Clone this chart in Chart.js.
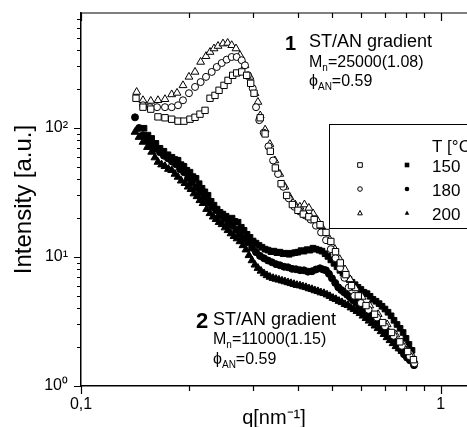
<!DOCTYPE html>
<html>
<head>
<meta charset="utf-8">
<script src="https://cdn.jsdelivr.net/npm/chart.js@4.4.0/dist/chart.umd.min.js"></script>
<style>
  html, body { margin: 0; padding: 0; background: #fff; overflow: hidden; }
  canvas { display: block; }
</style>
</head>
<body>
<canvas id="chart" width="467" height="427"></canvas>
<script>
// Ejes
const xMajor = [0.1, 1]
const xLabels = ['0,1', '1']
const yMajor = [1, 10, 100]
const yLabels = ['10⁰', '10¹', '10²']

// Muestra 1: ST/AN gradient Mn=25000 (símbolos abiertos)
const q1_150 = [0.1422, 0.1487, 0.1563, 0.1637, 0.1712, 0.1787, 0.1861, 0.1933, 0.2009, 0.2075, 0.2142, 0.2212, 0.2284, 0.2358, 0.2420, 0.2498, 0.2563, 0.2641, 0.2709, 0.2798, 0.2888, 0.2963, 0.3027,
    0.3150, 0.3250, 0.3360, 0.3470, 0.3600, 0.3730, 0.3870, 0.4010, 0.4150, 0.4300, 0.4450, 0.4620, 0.4800, 0.4950, 0.5100, 0.5260, 0.5450, 0.5650, 0.5900, 0.6200, 0.6550, 0.6900, 0.7300, 0.7700, 0.8100, 0.8400]
const i1_150 = [170, 145, 140, 122, 120, 117, 113, 113, 117, 121, 128, 137, 170, 179, 196, 214, 234, 256, 267, 272, 256, 222, 186,
    120, 90, 66, 49, 37, 30, 25.5, 23, 21.5, 20.5, 19.5, 17.8, 15.5, 13.2, 11.0, 9.0, 7.3, 6.0, 5.0, 4.2, 3.6, 3.1, 2.6, 2.2, 1.85, 1.6]

const q1_180 = [0.1487, 0.1555, 0.1627, 0.1712, 0.1787, 0.1861, 0.1921, 0.1996, 0.2075, 0.2151, 0.2226, 0.2309, 0.2385, 0.2462, 0.2542, 0.2624, 0.2709, 0.2798, 0.2857, 0.2913, 0.3002, 0.3066,
    0.3130, 0.3220, 0.3320, 0.3420, 0.3530, 0.3650, 0.3780, 0.3920, 0.4060, 0.4200, 0.4350, 0.4500, 0.4650, 0.4800, 0.4950, 0.5100, 0.5250, 0.5400, 0.5550, 0.5750, 0.6000, 0.6300, 0.6650, 0.7000, 0.7400, 0.7800, 0.8200, 0.8450]
const i1_180 = [150, 145, 145, 145, 145, 150, 164, 186, 208, 227, 249, 272, 297, 319, 339, 355, 355, 335, 306, 256, 203, 145,
    115, 92, 72, 56, 44, 35, 28.5, 24.5, 22.5, 21, 19.5, 17.5, 15.5, 13.5, 11.5, 9.8, 8.2, 6.9, 5.8, 5.0, 4.4, 3.9, 3.4, 2.9, 2.45, 2.05, 1.7, 1.5]

const q1_200 = [0.1428, 0.1487, 0.1563, 0.1637, 0.1712, 0.1787, 0.1849, 0.1921, 0.1996, 0.2075, 0.2151, 0.2226, 0.2284, 0.2343, 0.2404, 0.2482, 0.2557, 0.2624, 0.2697, 0.2767, 0.2857, 0.2950, 0.3045, 0.3104,
    0.3150, 0.3250, 0.3350, 0.3460, 0.3570, 0.3690, 0.3810, 0.3940, 0.4060, 0.4180, 0.4300, 0.4420, 0.4540, 0.4660, 0.4780, 0.4920, 0.5080, 0.5240, 0.5420, 0.5600, 0.5800, 0.6050, 0.6350, 0.6700, 0.7100, 0.7500, 0.7900, 0.8300]
const i1_200 = [190, 164, 162, 164, 167, 182, 187, 214, 249, 272, 325, 360, 388, 413, 432, 451, 456, 438, 413, 366, 306, 249, 186, 159,
    125, 97, 75, 56, 44, 35, 29, 25.5, 24.5, 25.5, 24.0, 21.7, 19.3, 17.3, 15.4, 13.6, 11.5, 9.6, 8.0, 6.7, 5.7, 4.9, 4.2, 3.6, 3.0, 2.5, 2.1, 1.75]

// Muestra 2: ST/AN gradient Mn=11000 (símbolos rellenos)
const q2_150 = [0.1497, 0.1535, 0.1572, 0.1615, 0.1658, 0.1700, 0.1745, 0.1790, 0.1825, 0.1861, 0.1897, 0.1933, 0.1970, 0.2009, 0.2048, 0.2088, 0.2130, 0.2170, 0.2210, 0.2255,
    0.2300, 0.2343, 0.2390, 0.2435, 0.2480, 0.2531, 0.2580, 0.2630, 0.2680, 0.2733, 0.2790, 0.2840, 0.2895, 0.2950, 0.3010, 0.3066, 0.3125, 0.3186, 0.3250, 0.3311,
    0.3375, 0.3440, 0.3505, 0.3574, 0.3645, 0.3715, 0.3790, 0.3860, 0.3935, 0.4011, 0.4090, 0.4168, 0.4250, 0.4331, 0.4415, 0.4500, 0.4590, 0.4677, 0.4770, 0.4859,
    0.4950, 0.5050, 0.5150, 0.5248, 0.5350, 0.5453, 0.5560, 0.5667, 0.5780, 0.5889, 0.6000, 0.6119, 0.6240, 0.6362, 0.6480, 0.6609, 0.6740, 0.6869, 0.7000, 0.7137,
    0.7280, 0.7417, 0.7560, 0.7709, 0.7860, 0.8009, 0.8160, 0.8322]
const i2_150 = [99.5, 88, 83, 76, 69.6, 66, 62, 59.3, 57, 56.2, 52, 50.5, 47, 45.4, 42, 40.7, 37, 34.1, 32, 30.1,
    27, 25.2, 23.5, 22.2, 21.5, 20.7, 19.6, 20.0, 18.9, 18.6, 17.0, 16.1, 15.0, 14.2, 13.3, 12.8, 12.3, 11.9, 11.5, 11.3,
    11.0, 11.1, 10.8, 10.9, 10.6, 10.7, 10.5, 10.7, 10.8, 10.9, 11.2, 11.1, 11.4, 11.3, 11.7, 11.5, 11.3, 11.1, 10.6, 10.1,
    9.5, 8.93, 8.4, 7.88, 7.5, 7.09, 6.7, 6.37, 6.1, 5.82, 5.6, 5.33, 5.2, 4.96, 4.7, 4.54, 4.35, 4.15, 3.95, 3.73,
    3.5, 3.23, 3.0, 2.80, 2.6, 2.34, 2.1, 1.89]

const q2_180 = [0.1413, 0.1450, 0.1487, 0.1530, 0.1576, 0.1615, 0.1658, 0.1700, 0.1745, 0.1790, 0.1836, 0.1885, 0.1933, 0.1985, 0.2035, 0.2090, 0.2142, 0.2200, 0.2255, 0.2315,
    0.2374, 0.2435, 0.2498, 0.2565, 0.2630, 0.2700, 0.2767, 0.2840, 0.2913, 0.2990, 0.3066, 0.3145, 0.3227, 0.3310, 0.3396, 0.3485, 0.3574, 0.3670, 0.3763, 0.3860,
    0.3960, 0.4065, 0.4168, 0.4275, 0.4387, 0.4500, 0.4618, 0.4710, 0.4797, 0.4890, 0.4985, 0.5090, 0.5192, 0.5290, 0.5385, 0.5490, 0.5595, 0.5700, 0.5814, 0.5925,
    0.6041, 0.6160, 0.6279, 0.6400, 0.6525, 0.6650, 0.6783, 0.6910, 0.7046, 0.7180, 0.7322, 0.7460, 0.7609, 0.7760, 0.7907, 0.8060, 0.8216, 0.8430]
const i2_180 = [121, 100, 87.8, 80, 73.5, 69, 64.8, 61, 58.2, 55, 52.3, 48, 45.4, 41, 37.9, 34.5, 31.7, 29, 26.5, 24.5,
    23.0, 21.3, 20.0, 18.6, 17.6, 16.3, 15.3, 14.0, 13.0, 11.8, 10.9, 10.2, 9.77, 9.4, 9.10, 8.8, 8.62, 8.4, 8.32, 8.1,
    8.03, 7.9, 7.88, 7.7, 7.75, 8.0, 8.17, 8.0, 7.88, 7.4, 6.84, 6.3, 5.82, 5.55, 5.33, 5.1, 4.87, 4.65, 4.45, 4.25,
    4.07, 3.85, 3.66, 3.5, 3.35, 3.2, 3.06, 2.88, 2.70, 2.5, 2.34, 2.18, 2.03, 1.9, 1.76, 1.66, 1.58, 1.45]

const q2_200 = [0.1413, 0.1450, 0.1487, 0.1530, 0.1572, 0.1605, 0.1637, 0.1675, 0.1712, 0.1750, 0.1787, 0.1825, 0.1861, 0.1900, 0.1945, 0.1985, 0.2022, 0.2060, 0.2101, 0.2140,
    0.2184, 0.2235, 0.2284, 0.2330, 0.2374, 0.2420, 0.2466, 0.2515, 0.2563, 0.2612, 0.2663, 0.2715, 0.2767, 0.2820, 0.2875, 0.2930, 0.2988, 0.3045, 0.3104, 0.3165,
    0.3227, 0.3290, 0.3353, 0.3420, 0.3485, 0.3550, 0.3621, 0.3690, 0.3763, 0.3835, 0.3910, 0.3985, 0.4063, 0.4140, 0.4222, 0.4305, 0.4387, 0.4470, 0.4559, 0.4645,
    0.4737, 0.4830, 0.4923, 0.5020, 0.5115, 0.5215, 0.5316, 0.5420, 0.5524, 0.5630, 0.5741, 0.5850, 0.5966, 0.6080, 0.6199, 0.6320, 0.6442, 0.6565, 0.6694, 0.6825,
    0.6957, 0.7090, 0.7228, 0.7370, 0.7511, 0.7655, 0.7805, 0.7955, 0.8111]
const i2_200 = [93.1, 85, 77.9, 71, 65.2, 59, 54.5, 52, 50.5, 48, 47.0, 44, 41.7, 39, 37.3, 35, 33.5, 31, 29.5, 27.5,
    26.1, 23.5, 21.8, 20.5, 19.6, 18.6, 17.9, 16.9, 16.1, 15.2, 14.5, 13.9, 13.2, 12.3, 11.4, 10.3, 9.4, 8.7, 8.2, 7.8,
    7.45, 7.2, 7.0, 6.85, 6.75, 6.65, 6.55, 6.45, 6.35, 6.25, 6.15, 6.05, 6.0, 5.9, 5.82, 5.7, 5.62, 5.5, 5.42, 5.3,
    5.23, 5.1, 4.96, 4.8, 4.70, 4.55, 4.45, 4.3, 4.22, 4.05, 3.93, 3.8, 3.66, 3.5, 3.35, 3.2, 3.06, 2.93, 2.80, 2.65,
    2.52, 2.38, 2.26, 2.14, 2.03, 1.95, 1.86, 1.78, 1.70]

const temps = ['150', '180', '200']

const FONT = '"Liberation Sans", Arial, Helvetica, sans-serif'
Chart.defaults.font.family = FONT
Chart.defaults.color = '#000'

function points(q, i) {
    return q.map((v, k) => ({ x: v, y: i[k] }))
}

function withMinors(majors, max) {
    const out = []
    majors.forEach(m => {
        for (let k = 1; k < 10; k++) {
            const v = +(m * k).toPrecision(6)
            if (v <= max) out.push(v)
        }
    })
    return out
}

function openSet(label, q, i, style, r) {
    return { label, data: points(q, i), pointStyle: style, pointRadius: r, backgroundColor: '#fff', borderColor: '#000', borderWidth: 1 }
}
function filledSet(label, q, i, style, r) {
    return { label, data: points(q, i), pointStyle: style, pointRadius: r, backgroundColor: '#000', borderColor: '#000', borderWidth: 1 }
}

// Texto con subíndice (M_n, ϕ_AN)
function subText(ctx, x, y, main, sub, rest, size) {
    ctx.font = size + 'px ' + FONT
    ctx.fillText(main, x, y)
    let w = ctx.measureText(main).width
    ctx.font = Math.round(size * 0.6) + 'px ' + FONT
    ctx.fillText(sub, x + w, y + size * 0.28)
    w += ctx.measureText(sub).width
    ctx.font = size + 'px ' + FONT
    ctx.fillText(rest, x + w, y)
}

function marker(ctx, style, x, y, r, filled) {
    ctx.beginPath()
    if (style === 'rect') ctx.rect(x - r, y - r, 2 * r, 2 * r)
    else if (style === 'circle') ctx.arc(x, y, r, 0, Math.PI * 2)
    else { ctx.moveTo(x, y - r * 1.1); ctx.lineTo(x + r, y + r * 0.8); ctx.lineTo(x - r, y + r * 0.8); ctx.closePath() }
    if (filled) { ctx.fillStyle = '#000'; ctx.fill() } else { ctx.fillStyle = '#fff'; ctx.fill(); ctx.stroke() }
}

// Marco, marcas de ejes, anotaciones y leyenda
const frame = {
    id: 'frame',
    afterDraw(chart) {
        const { ctx, chartArea: a, scales: { x, y } } = chart
        ctx.save()
        ctx.strokeStyle = '#000'
        ctx.lineWidth = 1.2
        ctx.beginPath()
        ctx.moveTo(a.left, a.top); ctx.lineTo(a.right, a.top)
        x.ticks.forEach(t => {
            const px = Math.round(x.getPixelForValue(t.value)) + 0.5
            const len = xMajor.includes(t.value) ? 8 : 5
            ctx.moveTo(px, a.bottom); ctx.lineTo(px, a.bottom + len)
            ctx.moveTo(px, a.top); ctx.lineTo(px, a.top + len)
        })
        y.ticks.forEach(t => {
            const py = Math.round(y.getPixelForValue(t.value)) + 0.5
            const len = yMajor.includes(t.value) ? 7 : 4
            ctx.moveTo(a.left, py); ctx.lineTo(a.left - len, py)
        })
        ctx.stroke()

        ctx.fillStyle = '#000'
        ctx.textBaseline = 'alphabetic'
        // Muestra 1
        ctx.font = 'bold 20px ' + FONT
        ctx.fillText('1', 285, 50)
        ctx.font = '18px ' + FONT
        ctx.fillText('ST/AN gradient', 309, 47)
        subText(ctx, 309, 67, 'M', 'n', '=25000(1.08)', 16)
        subText(ctx, 309, 86, 'ϕ', 'AN', '=0.59', 16)
        // Muestra 2
        ctx.font = 'bold 22px ' + FONT
        ctx.fillText('2', 196, 328)
        ctx.font = '18px ' + FONT
        ctx.fillText('ST/AN gradient', 213, 325)
        subText(ctx, 213, 344, 'M', 'n', '=11000(1.15)', 16)
        subText(ctx, 213, 364, 'ϕ', 'AN', '=0.59', 16)

        // Leyenda
        ctx.lineWidth = 1
        ctx.fillStyle = '#fff'
        ctx.fillRect(329.5, 124.5, 160, 104)
        ctx.strokeRect(329.5, 124.5, 160, 104)
        ctx.fillStyle = '#000'
        ctx.font = '17px ' + FONT
        ctx.fillText('T [°C]', 432, 152)
        const styles = ['rect', 'circle', 'triangle']
        temps.forEach((t, k) => {
            const cy = 165 + k * 24
            ctx.strokeStyle = '#000'
            marker(ctx, styles[k], 360, cy, 2.3, false)
            marker(ctx, styles[k], 407, cy, 2.3, true)
            ctx.fillStyle = '#000'
            ctx.font = '17px ' + FONT
            ctx.fillText(t, 432, cy + 6.5)
        })
        ctx.restore()
    }
}

const xTicks = withMinors(xMajor, 1.1834)
const yTicks = withMinors(yMajor, 778.8)

new Chart('chart', {
    type: 'scatter',
    data: {
        datasets: [
            openSet(temps[0], q1_150, i1_150, 'rect', 4.5),
            openSet(temps[1], q1_180, i1_180, 'circle', 3.5),
            openSet(temps[2], q1_200, i1_200, 'triangle', 4.5),
            filledSet(temps[0], q2_150, i2_150, 'rect', 4),
            filledSet(temps[1], q2_180, i2_180, 'circle', 3.5),
            filledSet(temps[2], q2_200, i2_200, 'triangle', 4.5)
        ]
    },
    options: {
        responsive: false,
        animation: false,
        devicePixelRatio: 1,
        layout: { autoPadding: false, padding: { top: 13, right: 0, bottom: 0, left: 0 } },
        plugins: { legend: { display: false }, tooltip: { enabled: false } },
        scales: {
            x: {
                type: 'logarithmic',
                min: 0.1,
                max: 1.1834,
                afterBuildTicks: s => { s.ticks = xTicks.map(v => ({ value: v })) },
                afterFit: s => { s.height = 41; s.paddingLeft = 0; s.paddingRight = 0 },
                grid: { drawOnChartArea: false, drawTicks: false },
                border: { color: '#000', width: 1.5 },
                ticks: {
                    autoSkip: false, maxRotation: 0, padding: 9,
                    font: { size: 16 },
                    callback: v => { const k = xMajor.indexOf(v); return k >= 0 ? xLabels[k] : '' }
                },
                title: { display: true, text: 'q[nm⁻¹]', font: { size: 20 }, padding: { top: 0, bottom: -3 } }
            },
            y: {
                type: 'logarithmic',
                min: 1,
                max: 778.8,
                afterBuildTicks: s => { s.ticks = yTicks.map(v => ({ value: v })) },
                afterFit: s => { s.width = 81; s.paddingTop = 0; s.paddingBottom = 0 },
                grid: { drawOnChartArea: false, drawTicks: false },
                border: { color: '#000', width: 1.5 },
                ticks: {
                    autoSkip: false, padding: 13,
                    font: { size: 16 },
                    callback: v => { const k = yMajor.indexOf(v); return k >= 0 ? yLabels[k] : '' }
                },
                title: { display: true, text: 'Intensity [a.u.]', font: { size: 24 }, padding: { top: 10, bottom: 0 } }
            }
        }
    },
    plugins: [frame]
})
</script>
</body>
</html>
